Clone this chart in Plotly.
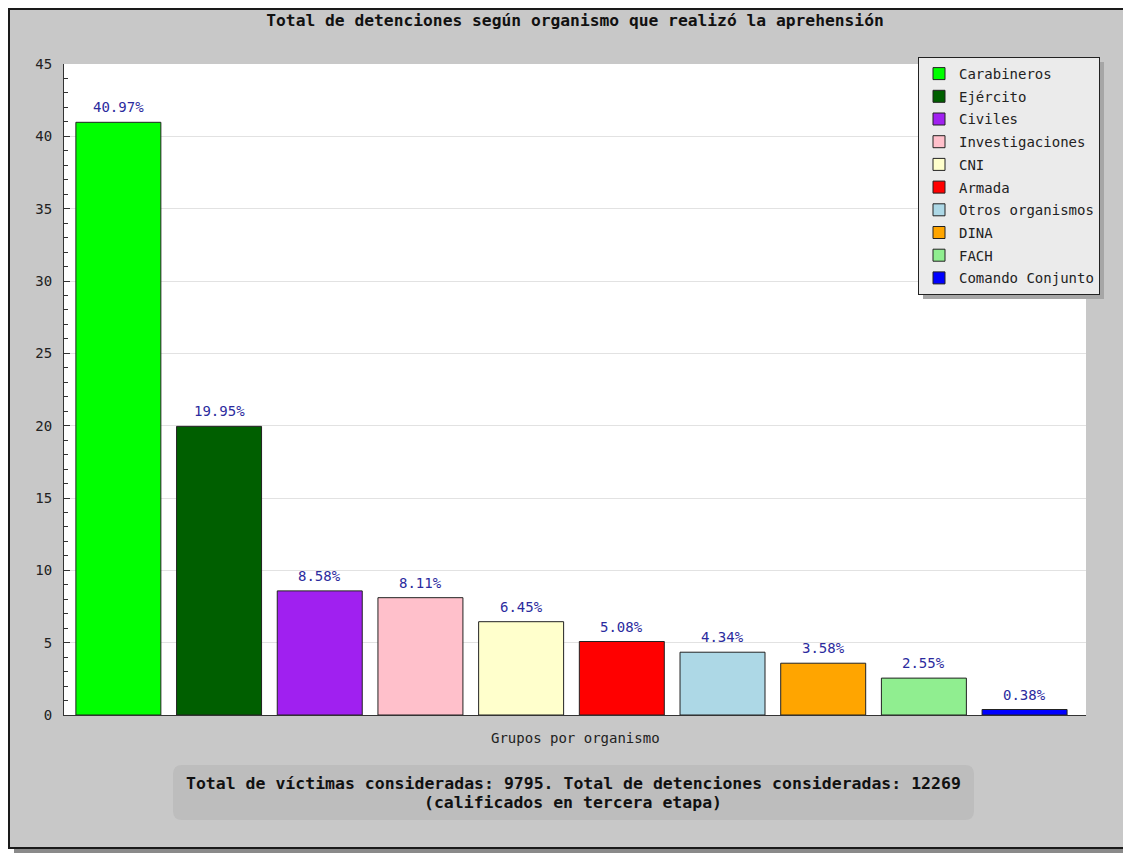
import plotly.graph_objects as go

categories = ["Carabineros", "Ejército", "Civiles", "Investigaciones", "CNI",
              "Armada", "Otros organismos", "DINA", "FACH", "Comando Conjunto"]
percentages = [40.97, 19.95, 8.58, 8.11, 6.45, 5.08, 4.34, 3.58, 2.55, 0.38]
bar_colors = ["#00ff00", "#005f00", "#a020f0", "#ffc0cb", "#ffffcc",
              "#ff0000", "#add8e6", "#ffa500", "#90ee90", "#0000ff"]

title_text = "Total de detenciones según organismo que realizó la aprehensión"
xaxis_title = "Grupos por organismo"
footer_line1 = "Total de víctimas consideradas: 9795. Total de detenciones consideradas: 12269"
footer_line2 = "(calificados en tercera etapa)"

MONO = "DejaVu Sans Mono"
OFF = 8  # page body margin
W, H = 1131, 853 - OFF
L, T = 64 - OFF, 64 - OFF
PLOT_RIGHT, PLOT_BOTTOM = 1086 - OFF, 715 - OFF
R, B = W - PLOT_RIGHT, H - PLOT_BOTTOM
PW, PH = W - L - R, H - T - B


def px_x(p):
    return (p - OFF - L) / PW


def px_y(p):
    return (PLOT_BOTTOM - (p - OFF)) / PH


fig = go.Figure()
for cat, val, col in zip(categories, percentages, bar_colors):
    fig.add_trace(go.Bar(
        x=[cat], y=[val], name=cat, width=0.844,
        marker=dict(color=col, line=dict(color="#222222", width=1)),
        legendgroup=cat, hoverinfo="x+y",
    ))

annotations = []
for cat, val in zip(categories, percentages):
    annotations.append(dict(
        x=cat, y=val, xref="x", yref="y", text=f"{val:.2f}%",
        showarrow=False, yanchor="bottom", yshift=5,
        font=dict(family=MONO, size=14, color="#2b2b9e"),
    ))

annotations.append(dict(
    x=0.5, y=px_y(738), xref="paper", yref="paper", text=xaxis_title,
    showarrow=False, yanchor="middle",
    font=dict(family=MONO, size=14, color="#222222"),
))
annotations.append(dict(
    x=px_x(573), y=px_y(783), xref="paper", yref="paper", text=f"<b>{footer_line1}</b>",
    showarrow=False, yanchor="middle",
    font=dict(family=MONO, size=16.5, color="#111111"),
))
annotations.append(dict(
    x=px_x(573), y=px_y(802), xref="paper", yref="paper", text=f"<b>{footer_line2}</b>",
    showarrow=False, yanchor="middle",
    font=dict(family=MONO, size=16.5, color="#111111"),
))


def rounded_rect(x0, y0, x1, y1, r):
    X = px_x
    Y = px_y
    return (f"M {X(x0 + r)},{Y(y0)} L {X(x1 - r)},{Y(y0)} Q {X(x1)},{Y(y0)} {X(x1)},{Y(y0 + r)} "
            f"L {X(x1)},{Y(y1 - r)} Q {X(x1)},{Y(y1)} {X(x1 - r)},{Y(y1)} "
            f"L {X(x0 + r)},{Y(y1)} Q {X(x0)},{Y(y1)} {X(x0)},{Y(y1 - r)} "
            f"L {X(x0)},{Y(y0 + r)} Q {X(x0)},{Y(y0)} {X(x0 + r)},{Y(y0)} Z")


LEG_LEFT, LEG_TOP = 918, 57

shapes = [
    # frame shadow
    dict(type="rect", xref="paper", yref="paper", layer="below",
         x0=px_x(14), x1=px_x(1170), y0=px_y(14), y1=px_y(856),
         fillcolor="#8a8a8a", line=dict(width=0)),
    # grey frame
    dict(type="rect", xref="paper", yref="paper", layer="below",
         x0=px_x(9), x1=px_x(1160), y0=px_y(9), y1=px_y(848),
         fillcolor="#c8c8c8", line=dict(color="#1a1a1a", width=2)),
    # white plot area
    dict(type="rect", xref="paper", yref="paper", layer="below",
         x0=0, x1=1, y0=0, y1=1, fillcolor="#ffffff", line=dict(width=0)),
    # footer box
    dict(type="path", xref="paper", yref="paper", layer="below",
         path=rounded_rect(173, 765, 974, 820, 9),
         fillcolor="#bdbdbd", line=dict(width=0)),
    # legend shadow
    dict(type="rect", xref="paper", yref="paper", layer="above",
         x0=px_x(LEG_LEFT + 5), x1=px_x(1104), y0=px_y(LEG_TOP + 5), y1=px_y(299),
         fillcolor="#a6a6a6", line=dict(width=0)),
]

fig.update_layout(
    width=W, height=H,
    margin=dict(l=L, r=R, t=T, b=B, pad=0),
    paper_bgcolor="#ffffff",
    plot_bgcolor="rgba(0,0,0,0)",
    barmode="overlay",
    showlegend=True,
    title=dict(text=f"<b>{title_text}</b>", x=0.5, xref="paper", xanchor="center",
               y=1 - (20 - OFF) / H, yref="container", yanchor="middle",
               font=dict(family=MONO, size=16.3, color="#111111")),
    font=dict(family=MONO, size=14, color="#222222"),
    xaxis=dict(
        type="category", categoryorder="array", categoryarray=categories,
        range=[-0.54, 9.61], showticklabels=False, ticks="",
        showgrid=False, zeroline=False, showline=True, linecolor="#333333", linewidth=1,
        fixedrange=True,
    ),
    yaxis=dict(
        range=[0, 45], dtick=5, tick0=0, ticks="inside", ticklen=6, tickcolor="#333333",
        showline=True, linecolor="#333333", linewidth=1,
        showgrid=True, gridcolor="#e2e2e2", gridwidth=1, zeroline=False,
        minor=dict(dtick=1, ticks="inside", ticklen=4, tickcolor="#333333", showgrid=False),
        tickfont=dict(family=MONO, size=14, color="#222222"),
        ticklabelstandoff=8, fixedrange=True,
    ),
    legend=dict(
        x=px_x(LEG_LEFT), y=px_y(LEG_TOP), xanchor="left", yanchor="top",
        xref="paper", yref="paper",
        bgcolor="#ebebeb", bordercolor="#222222", borderwidth=1,
        font=dict(family=MONO, size=14, color="#222222"),
        traceorder="grouped", tracegroupgap=1.5,
        itemclick=False, itemdoubleclick=False,
    ),
    annotations=annotations,
    shapes=shapes,
)

fig.write_html("out.html")
